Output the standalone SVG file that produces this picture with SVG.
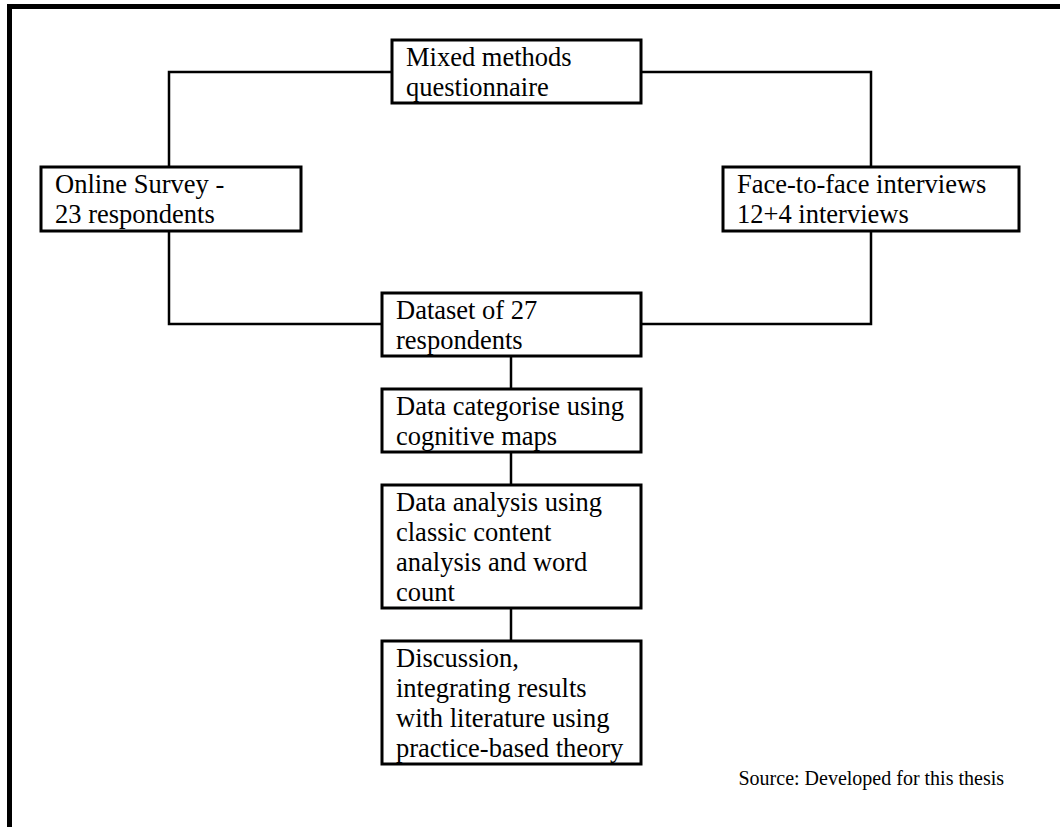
<svg xmlns="http://www.w3.org/2000/svg" width="1060" height="827" viewBox="0 0 1060 827">
  <style>
    .box { fill: #ffffff; stroke: #000000; stroke-width: 3; }
    .link { fill: none; stroke: #000000; stroke-width: 2.5; }
    .label { font-family: "Liberation Serif", "Times New Roman", serif; font-size: 26.5px; fill: #000000; }
    .note { font-family: "Liberation Serif", "Times New Roman", serif; font-size: 20px; fill: #000000; }
  </style>

  <rect x="0" y="0" width="1060" height="827" fill="#ffffff"/>

  <!-- page frame: top and left rules -->
  <rect x="7" y="4" width="1053" height="5" fill="#000000"/>
  <rect x="7" y="4" width="5" height="823" fill="#000000"/>

  <!-- connectors -->
  <g id="connectors">
    <polyline class="link" points="392,72 169,72 169,167"/>
    <polyline class="link" points="641,72 871,72 871,167"/>
    <polyline class="link" points="169,231 169,324 382,324"/>
    <polyline class="link" points="871,231 871,324 641,324"/>
    <line class="link" x1="511" y1="356" x2="511" y2="389"/>
    <line class="link" x1="511" y1="452" x2="511" y2="485"/>
    <line class="link" x1="511" y1="608" x2="511" y2="641"/>
  </g>

  <g id="mixed-methods">
    <rect class="box" x="392" y="40" width="249" height="63"/>
    <text class="label" x="406" y="66">Mixed methods</text>
    <text class="label" x="406" y="96">questionnaire</text>
  </g>

  <g id="online-survey">
    <rect class="box" x="41" y="167" width="260" height="64"/>
    <text class="label" x="55" y="193">Online Survey -</text>
    <text class="label" x="55" y="223">23 respondents</text>
  </g>

  <g id="face-to-face">
    <rect class="box" x="723" y="167" width="296" height="64"/>
    <text class="label" x="737" y="193">Face-to-face interviews</text>
    <text class="label" x="737" y="223">12+4 interviews</text>
  </g>

  <g id="dataset">
    <rect class="box" x="382" y="293" width="259" height="63"/>
    <text class="label" x="396" y="319">Dataset of 27</text>
    <text class="label" x="396" y="349">respondents</text>
  </g>

  <g id="categorise">
    <rect class="box" x="382" y="389" width="259" height="63"/>
    <text class="label" x="396" y="415">Data categorise using</text>
    <text class="label" x="396" y="445">cognitive maps</text>
  </g>

  <g id="analysis">
    <rect class="box" x="382" y="485" width="259" height="123"/>
    <text class="label" x="396" y="511">Data analysis using</text>
    <text class="label" x="396" y="541">classic content</text>
    <text class="label" x="396" y="571">analysis and word</text>
    <text class="label" x="396" y="601">count</text>
  </g>

  <g id="discussion">
    <rect class="box" x="382" y="641" width="259" height="123"/>
    <text class="label" x="396" y="667">Discussion,</text>
    <text class="label" x="396" y="697">integrating results</text>
    <text class="label" x="396" y="727">with literature using</text>
    <text class="label" x="396" y="757">practice-based theory</text>
  </g>

  <text class="note" x="1004" y="785" text-anchor="end">Source: Developed for this thesis</text>
</svg>
